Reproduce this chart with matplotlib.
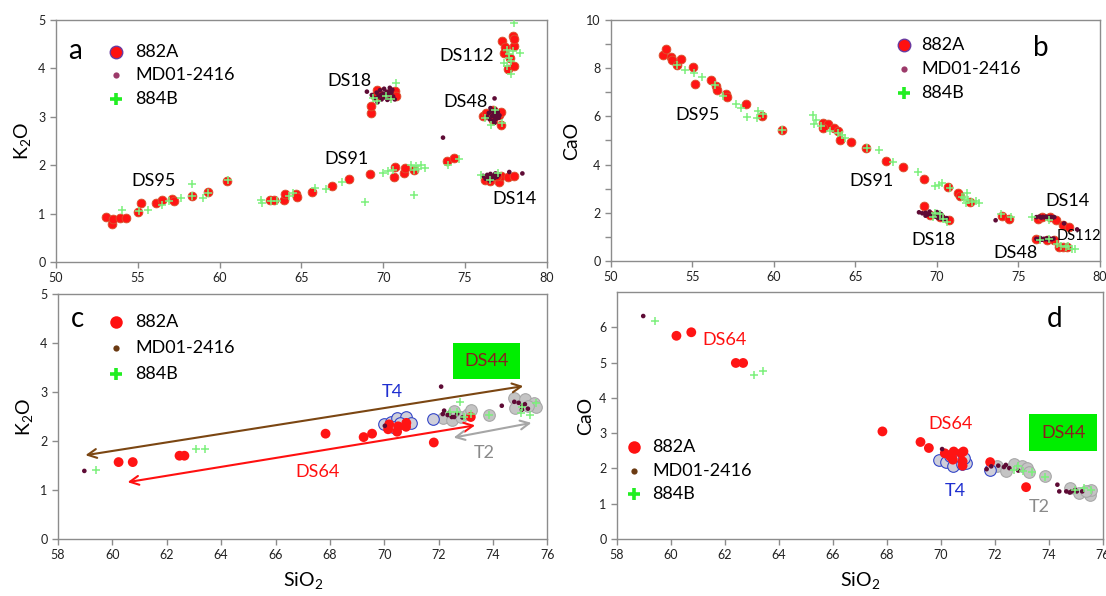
import matplotlib.pyplot as plt
from matplotlib.lines import Line2D
from matplotlib.patches import Rectangle

plt.rcParams["font.family"] = ["Lato", "DejaVu Sans"]
plt.rcParams["mathtext.fontset"] = "custom"
plt.rcParams["mathtext.rm"] = "Lato"
plt.rcParams["mathtext.it"] = "Lato:italic"

# ---------------- panel a: SiO2 vs K2O ----------------
a_882A_sio2 = [53.06, 53.4, 53.5, 53.94, 54.27, 55.04, 55.2, 56.1, 56.46, 57.1, 57.2, 58.3,
               59.26, 60.47, 63.1, 63.35, 63.95, 64.0, 64.67, 64.7, 65.66, 66.86, 67.9, 69.18,
               70.63, 70.74, 71.28, 71.35, 71.9, 73.9, 74.35,
               69.23, 69.27, 69.5, 69.6, 69.8, 70.4, 70.7, 70.76,
               76.1, 76.3, 76.7, 77.2, 77.1, 77.2, 76.7,
               77.26, 77.9, 77.35, 77.96, 77.63, 77.96, 77.96, 77.75, 77.45,
               76.2, 76.5, 77.05, 77.2, 77.65, 77.96, 76.93]
a_882A_k2o = [0.94, 0.79, 0.88, 0.91, 0.91, 1.04, 1.22, 1.22, 1.29, 1.31, 1.26, 1.36,
              1.45, 1.67, 1.28, 1.28, 1.29, 1.41, 1.41, 1.34, 1.45, 1.58, 1.72, 1.82,
              1.76, 1.96, 1.83, 1.94, 1.91, 2.09, 2.14,
              3.08, 3.22, 3.43, 3.55, 3.46, 3.5, 3.53, 3.43,
              3.01, 3.08, 2.94, 2.84, 3.03, 3.1, 3.15,
              4.57, 4.66, 4.32, 4.46, 3.98, 4.05, 4.6, 4.22, 4.45,
              1.70, 1.67, 1.65, 1.77, 1.75, 1.77, 1.77]

a_md01_sio2 = [69.0, 69.3, 69.5, 69.6, 69.7, 69.8, 69.9, 70.0, 70.05, 70.1, 70.2, 70.25,
               70.3, 70.4, 70.45, 70.5, 70.6, 70.7, 69.85, 70.15, 70.35, 69.65, 70.55,
               76.35, 76.45, 76.5, 76.6, 76.65, 76.7, 76.75, 76.8, 76.85, 76.9, 76.95,
               77.0, 77.05, 76.55, 76.8, 77.1, 76.8,
               76.1, 76.25, 76.35, 76.45, 76.55, 76.6, 76.7, 76.8, 76.85, 76.95, 77.05,
               76.5, 77.7, 78.5, 73.65]
a_md01_k2o = [3.52, 3.45, 3.38, 3.5, 3.42, 3.55, 3.36, 3.48, 3.58, 3.4, 3.52, 3.35,
              3.45, 3.6, 3.38, 3.5, 3.42, 3.36, 3.45, 3.46, 3.52, 3.3, 3.56,
              3.0, 3.08, 2.95, 3.12, 3.02, 2.92, 3.08, 3.0, 3.15, 2.96, 3.05,
              3.1, 2.98, 3.18, 2.88, 3.03, 3.38,
              1.78, 1.72, 1.8, 1.75, 1.82, 1.7, 1.78, 1.74, 1.83, 1.76, 1.8,
              1.68, 1.86, 1.83, 2.57]

a_884B_sio2 = [54.05, 55.08, 55.6, 56.5, 56.9, 57.66, 58.3, 58.3, 58.97, 59.26, 60.5,
               62.5, 62.6, 63.12, 63.5, 64.27, 64.5, 65.8, 66.5, 67.45, 68.9, 70.0, 70.3,
               70.6, 71.7, 72.0, 72.3, 72.55, 71.9, 73.96, 74.6, 71.85, 72.15,
               70.76, 69.38, 69.6, 70.15, 70.47,
               76.6, 76.83, 77.26, 76.2,
               77.96, 78.36, 77.35, 77.57, 77.68, 77.83, 77.57, 77.9, 77.7, 77.8,
               76.0, 77.0, 76.5]
a_884B_k2o = [1.07, 1.05, 1.08, 1.17, 1.27, 1.32, 1.62, 1.36, 1.32, 1.43, 1.70,
              1.29, 1.22, 1.26, 1.26, 1.36, 1.43, 1.53, 1.51, 1.65, 1.24, 1.84, 1.88,
              1.91, 2.01, 1.98, 2.01, 1.94, 1.38, 2.01, 2.13, 1.9, 1.93,
              3.70, 3.39, 3.32, 3.43, 3.36,
              2.84, 3.15, 2.88, 2.98,
              4.94, 4.31, 4.12, 4.39, 4.22, 3.88, 4.05, 4.36, 4.3, 4.15,
              1.79, 1.84, 1.70]

# ---------------- panel b: SiO2 vs CaO ----------------
b_882A_sio2 = [53.18, 53.38, 53.66, 53.77, 54.03, 54.27, 55.03, 55.18, 56.16, 56.42, 56.49,
               57.08, 57.14, 58.3, 59.25, 60.47, 63.02, 63.3, 63.02, 63.67, 63.9, 64.06,
               64.72, 65.63, 66.9, 67.92, 69.18, 70.7, 71.29, 71.4, 72.05,
               76.23, 76.47, 76.95, 77.28, 77.72, 78.09,
               69.2, 70.75, 70.2, 69.6,
               74.0, 74.45,
               76.08, 76.74, 77.17, 77.5, 77.72, 78.0]
b_882A_cao = [8.53, 8.81, 8.47, 8.32, 8.15, 8.39, 8.06, 7.35, 7.49, 7.25, 7.08,
              6.94, 6.81, 6.51, 6.0, 5.44, 5.72, 5.69, 5.51, 5.51, 5.4, 5.03,
              4.93, 4.68, 4.15, 3.89, 3.4, 3.08, 2.83, 2.69, 2.46,
              1.76, 1.83, 1.83, 1.72, 1.49, 1.42,
              2.28, 1.72, 1.83, 1.9,
              1.86, 1.76,
              0.93, 0.86, 0.89, 0.58, 0.56, 0.58]

b_md01_sio2 = [68.9, 69.1, 69.3, 69.4, 69.5, 69.6, 69.7, 69.8, 69.9, 70.0, 70.05, 70.1,
               70.2, 70.3, 70.4, 70.5, 69.55, 70.0, 70.25, 69.3, 70.6,
               76.1, 76.3, 76.4, 76.5, 76.6, 76.7, 76.8, 76.9, 77.0, 77.1, 77.2,
               77.8, 78.6, 73.6,
               76.1, 76.25, 76.35, 76.45, 76.55, 76.65, 76.75, 76.85, 76.95, 77.05, 77.15]
b_md01_cao = [2.02, 1.98, 2.0, 1.93, 1.96, 1.9, 1.88, 1.93, 1.85, 1.82, 1.9, 1.78,
              1.8, 1.75, 1.82, 1.72, 2.05, 2.03, 1.95, 1.88, 1.78,
              1.82, 1.84, 1.8, 1.83, 1.81, 1.84, 1.8, 1.82, 1.83, 1.8, 1.82,
              1.56, 1.31, 1.69,
              0.92, 0.9, 0.95, 0.88, 0.92, 0.9, 0.94, 0.88, 0.92, 0.9, 0.93]

b_884B_sio2 = [54.03, 54.57, 55.07, 55.57, 56.38, 56.88, 57.7, 58.0, 58.34, 58.99, 59.05,
               59.32, 60.47, 62.41, 62.58, 62.47, 62.91, 63.46, 63.9, 64.15, 64.33, 65.68,
               66.46, 67.33, 68.85, 69.88, 70.1, 70.31, 70.79, 71.51, 71.68, 71.9, 72.16,
               72.38, 72.6, 71.83, 71.77,
               73.95, 74.56, 75.82, 76.85,
               69.88, 70.2, 70.64, 69.77, 70.38,
               77.6, 77.93, 78.26, 78.48, 77.39, 78.04, 76.3, 76.9]
b_884B_cao = [8.15, 7.92, 7.78, 7.65, 7.29, 6.83, 6.53, 6.35, 5.96, 5.93, 6.21,
              6.1, 5.44, 6.04, 5.86, 5.68, 5.58, 5.38, 5.31, 5.21, 5.1, 4.68,
              4.61, 4.1, 3.71, 3.11, 3.15, 3.25, 3.01, 2.67, 2.6, 2.53, 2.46,
              2.5, 2.42, 2.81, 2.39,
              1.93, 1.83, 1.83, 1.69,
              2.0, 1.97, 1.62, 1.83, 1.76,
              0.61, 0.56, 0.51, 0.51, 0.72, 0.61, 0.88, 0.9]

# ---------------- panel c: SiO2 vs K2O (DS64 / DS44) ----------------
c_882A_sio2 = [60.23, 60.75, 62.47, 62.65, 67.84, 69.24, 69.55, 70.14, 70.18, 70.47, 70.51,
               70.80, 70.81, 71.82, 73.18]
c_882A_k2o = [1.57, 1.57, 1.70, 1.70, 2.15, 2.08, 2.15, 2.24, 2.34, 2.19, 2.30,
              2.29, 2.37, 1.97, 2.49]
c_md01_sio2 = [58.97, 70.02, 72.09, 72.15, 72.2, 72.33, 72.48, 72.57, 72.38, 72.87, 72.68,
               74.32, 74.78, 74.94, 75.08, 75.17, 75.06, 75.28]
c_md01_k2o = [1.39, 2.31, 3.11, 2.55, 2.62, 2.53, 2.49, 2.49, 2.57, 2.48, 2.56,
              2.72, 2.8, 2.78, 2.72, 2.75, 2.64, 2.66]
c_884B_sio2 = [59.4, 63.06, 63.41, 72.78, 72.42, 72.94, 72.68, 73.2, 73.86, 75.07, 75.37,
               75.57, 75.04]
c_884B_k2o = [1.40, 1.83, 1.83, 2.80, 2.6, 2.49, 2.6, 2.56, 2.54, 2.70, 2.54,
              2.77, 2.57]
c_t2_sio2 = [72.15, 72.48, 72.81, 73.07, 73.2, 72.55, 73.86, 74.78, 74.8, 75.17, 75.5,
             75.57, 75.28]
c_t2_k2o = [2.46, 2.43, 2.49, 2.56, 2.64, 2.61, 2.54, 2.87, 2.68, 2.85, 2.78,
            2.7, 2.71]
c_t4_sio2 = [69.98, 70.25, 70.47, 70.81, 70.97, 70.56, 70.31, 71.78]
c_t4_k2o = [2.34, 2.39, 2.46, 2.48, 2.36, 2.36, 2.29, 2.44]

# trend arrows: (start, end)
c_trend_ds44 = [(75.11, 3.12), (59.01, 1.71)]
c_trend_ds64 = [(73.34, 2.32), (60.56, 1.16)]
c_trend_t2 = [(72.55, 2.07), (75.41, 2.37)]

# ---------------- panel d: SiO2 vs CaO (DS64 / DS44) ----------------
d_882A_sio2 = [60.2, 60.75, 62.4, 62.67, 67.83, 69.24, 69.55, 70.14, 70.34, 70.47, 70.74,
               70.8, 70.83, 70.8, 70.44, 71.82, 73.15]
d_882A_cao = [5.76, 5.86, 4.99, 4.99, 3.05, 2.75, 2.58, 2.43, 2.34, 2.48, 2.43,
              2.2, 2.48, 2.08, 2.25, 2.18, 1.47]
d_md01_sio2 = [58.97, 70.04, 71.69, 71.86, 72.12, 72.33, 72.53, 72.4, 72.86, 74.31, 74.38,
               74.64, 74.84, 75.03, 75.23, 74.77, 74.97]
d_md01_cao = [6.32, 2.55, 1.98, 2.06, 2.08, 2.04, 2.01, 2.1, 1.94, 1.54, 1.35,
              1.35, 1.35, 1.35, 1.35, 1.32, 1.39]
d_884B_sio2 = [59.39, 63.07, 63.4, 72.72, 72.86, 73.05, 73.38, 73.85, 74.97, 75.3, 75.57]
d_884B_cao = [6.18, 4.65, 4.75, 1.96, 2.06, 1.92, 1.89, 1.75, 1.4, 1.44, 1.38]
d_t2_sio2 = [72.06, 72.39, 72.72, 72.99, 73.19, 73.25, 73.85, 74.77, 75.1, 75.53, 75.56,
             75.36]
d_t2_cao = [2.06, 1.92, 2.12, 2.06, 2.01, 1.89, 1.79, 1.44, 1.3, 1.24, 1.4,
            1.35]
d_t4_sio2 = [69.93, 70.2, 70.46, 70.79, 70.92, 70.86, 70.33, 71.82]
d_t4_cao = [2.25, 2.17, 2.06, 2.12, 2.15, 2.29, 2.34, 1.96]

series_names = ["882A", "MD01-2416", "884B"]

RED = "#FF1414"
MAROON = "#5E0B35"
LIGHT_GREEN = "#7CF07C"
FRAME_GREY = "#8C8C8C"


def style_axes(ax, xlim, xticks, ylim, yticks, ylabel, xlabel=None):
    ax.set_xlim(*xlim)
    ax.set_ylim(*ylim)
    ax.set_xticks(xticks)
    ax.set_yticks(yticks)
    for s in ax.spines.values():
        s.set_color(FRAME_GREY)
        s.set_linewidth(1.0)
    ax.tick_params(colors=FRAME_GREY, labelcolor="#222222", labelsize=9,
                   length=4, width=1.0)
    ax.set_ylabel(ylabel, fontsize=14, labelpad=4)
    if xlabel:
        ax.set_xlabel(xlabel, fontsize=14, labelpad=6)


def draw_key(ax, x, y, step, gap, styles):
    # hand placed key, one row per series
    for i, (name, st) in enumerate(zip(series_names, styles)):
        yy = y - i * step
        ax.add_line(Line2D([x], [yy], transform=ax.transAxes, linestyle="none", **st))
        ax.text(x + gap, yy, name, transform=ax.transAxes, fontsize=13,
                va="center", ha="left")


def scatter_set(ax, red, md01, green, big=False):
    s_red = 50 if big else 40
    edge = "none" if big else "#D8542E"
    ax.scatter(red[0], red[1], s=s_red, color=RED, edgecolors=edge, linewidths=0.6,
               zorder=3)
    ax.scatter(md01[0], md01[1], s=11, color=MAROON, edgecolors="none", zorder=4)
    ax.scatter(green[0], green[1], s=34, marker="+", color=LIGHT_GREEN, linewidths=1.1,
               zorder=5)


def ds_labels(ax, labels, size=13):
    for txt, x, y in labels:
        ax.text(x, y, txt, fontsize=size, ha="center", va="center")


def ds44_box(ax, x0, y0, x1, y1):
    ax.add_patch(Rectangle((x0, y0), x1 - x0, y1 - y0, transform=ax.transAxes,
                           facecolor="#00EE00", edgecolor="none", zorder=6))
    ax.text((x0 + x1) / 2, (y0 + y1) / 2, "DS44", transform=ax.transAxes,
            color="#8A1E1E", fontsize=13, ha="center", va="center", zorder=7)


fig = plt.figure(figsize=(11.06, 5.96), dpi=100)
ax_a = fig.add_axes([0.0506, 0.5604, 0.4439, 0.406])
ax_b = fig.add_axes([0.5524, 0.5621, 0.4421, 0.4044])
ax_c = fig.add_axes([0.0524, 0.0956, 0.4426, 0.4111])
ax_d = fig.add_axes([0.5579, 0.0956, 0.4394, 0.4144])

key_ab = [
    dict(marker="o", markersize=9, markerfacecolor="#FF1010", markeredgecolor="#6A3AA0",
         markeredgewidth=1.0),
    dict(marker="o", markersize=4.5, markerfacecolor="#9C3A6A", markeredgecolor="none"),
    dict(marker="+", markersize=9, markeredgecolor="#22EE22", markeredgewidth=2.6),
]
key_cd = [
    dict(marker="o", markersize=9, markerfacecolor="#FF1010", markeredgecolor="none"),
    dict(marker="o", markersize=4.5, markerfacecolor="#6B3A12", markeredgecolor="none"),
    dict(marker="+", markersize=9, markeredgecolor="#22EE22", markeredgewidth=2.6),
]

# a
style_axes(ax_a, (50, 80), range(50, 81, 5), (0, 5), range(0, 6), r"K$_\mathrm{2}$O")
scatter_set(ax_a, (a_882A_sio2, a_882A_k2o), (a_md01_sio2, a_md01_k2o),
            (a_884B_sio2, a_884B_k2o))
ds_labels(ax_a, [("DS95", 55.96, 1.68), ("DS91", 67.74, 2.12), ("DS18", 67.96, 3.75),
                 ("DS112", 75.11, 4.26), ("DS48", 75.03, 3.31), ("DS14", 78.03, 1.31)])
ax_a.text(0.039, 0.87, "a", transform=ax_a.transAxes, fontsize=20, ha="center",
          va="center")
draw_key(ax_a, 0.122, 0.868, 0.097, 0.04, key_ab)

# b
style_axes(ax_b, (50, 80), range(50, 81, 5), (0, 10), range(0, 11, 2), "CaO")
ax_b.set_yticks(range(0, 11), minor=True)
ax_b.tick_params(which="minor", colors=FRAME_GREY, length=4, width=1.0)
scatter_set(ax_b, (b_882A_sio2, b_882A_cao), (b_md01_sio2, b_md01_cao),
            (b_884B_sio2, b_884B_cao))
ds_labels(ax_b, [("DS95", 55.29, 6.04), ("DS91", 65.96, 3.32), ("DS18", 69.77, 0.89),
                 ("DS14", 78.0, 2.5), ("DS48", 74.82, 0.35)])
ax_b.text(78.74, 1.03, "DS112", fontsize=10.5, ha="center", va="center")
ax_b.text(0.879, 0.885, "b", transform=ax_b.transAxes, fontsize=20, ha="center",
          va="center")
draw_key(ax_b, 0.60, 0.896, 0.1, 0.034, key_ab)

# c
style_axes(ax_c, (58, 76), range(58, 77, 2), (0, 5), range(0, 6), r"K$_\mathrm{2}$O",
           r"SiO$_\mathrm{2}$")
ax_c.scatter(c_t2_sio2, c_t2_k2o, s=70, color="#C4C4C4", edgecolors="#A8A8A8",
             linewidths=0.8, zorder=2)
ax_c.scatter(c_t4_sio2, c_t4_k2o, s=70, color="#CFCFDA", edgecolors="#3446C8",
             linewidths=0.8, zorder=2)
scatter_set(ax_c, (c_882A_sio2, c_882A_k2o), (c_md01_sio2, c_md01_k2o),
            (c_884B_sio2, c_884B_k2o), big=True)
for (p0, p1), col in [(c_trend_ds44, "#7B4612"), (c_trend_ds64, "#FF1010"),
                      (c_trend_t2, "#A6A6A6")]:
    ax_c.annotate("", xy=p1, xytext=p0,
                  arrowprops=dict(arrowstyle="<->", color=col, lw=1.5,
                                  mutation_scale=16, shrinkA=0, shrinkB=0))
ax_c.text(70.31, 3.0, "T4", color="#1F2FD0", fontsize=13, ha="center", va="center")
ax_c.text(67.55, 1.37, "DS64", color="#FF1010", fontsize=13, ha="center", va="center")
ax_c.text(73.69, 1.76, "T2", color="#8A8A8A", fontsize=13, ha="center", va="center")
ds44_box(ax_c, 0.807, 0.653, 0.944, 0.8)
ax_c.text(0.04, 0.9, "c", transform=ax_c.transAxes, fontsize=20, ha="center",
          va="center")
draw_key(ax_c, 0.118, 0.886, 0.106, 0.04, key_cd)

# d
style_axes(ax_d, (58, 76), range(58, 77, 2), (0, 7), range(0, 7), "CaO",
           r"SiO$_\mathrm{2}$")
ax_d.scatter(d_t2_sio2, d_t2_cao, s=70, color="#C4C4C4", edgecolors="#A8A8A8",
             linewidths=0.8, zorder=2)
ax_d.scatter(d_t4_sio2, d_t4_cao, s=70, color="#CFCFDA", edgecolors="#3446C8",
             linewidths=0.8, zorder=2)
scatter_set(ax_d, (d_882A_sio2, d_882A_cao), (d_md01_sio2, d_md01_cao),
            (d_884B_sio2, d_884B_cao), big=True)
ax_d.text(61.98, 5.64, "DS64", color="#FF1010", fontsize=13, ha="center", va="center")
ax_d.text(70.34, 3.25, "DS64", color="#FF1010", fontsize=13, ha="center", va="center")
ax_d.text(70.54, 1.35, "T4", color="#1F2FD0", fontsize=13, ha="center", va="center")
ax_d.text(73.65, 0.92, "T2", color="#8A8A8A", fontsize=13, ha="center", va="center")
ds44_box(ax_d, 0.848, 0.356, 0.988, 0.506)
ax_d.text(0.9, 0.89, "d", transform=ax_d.transAxes, fontsize=20, ha="center",
          va="center")
draw_key(ax_d, 0.035, 0.372, 0.095, 0.037, key_cd)

fig.savefig("out.png", dpi=100)
